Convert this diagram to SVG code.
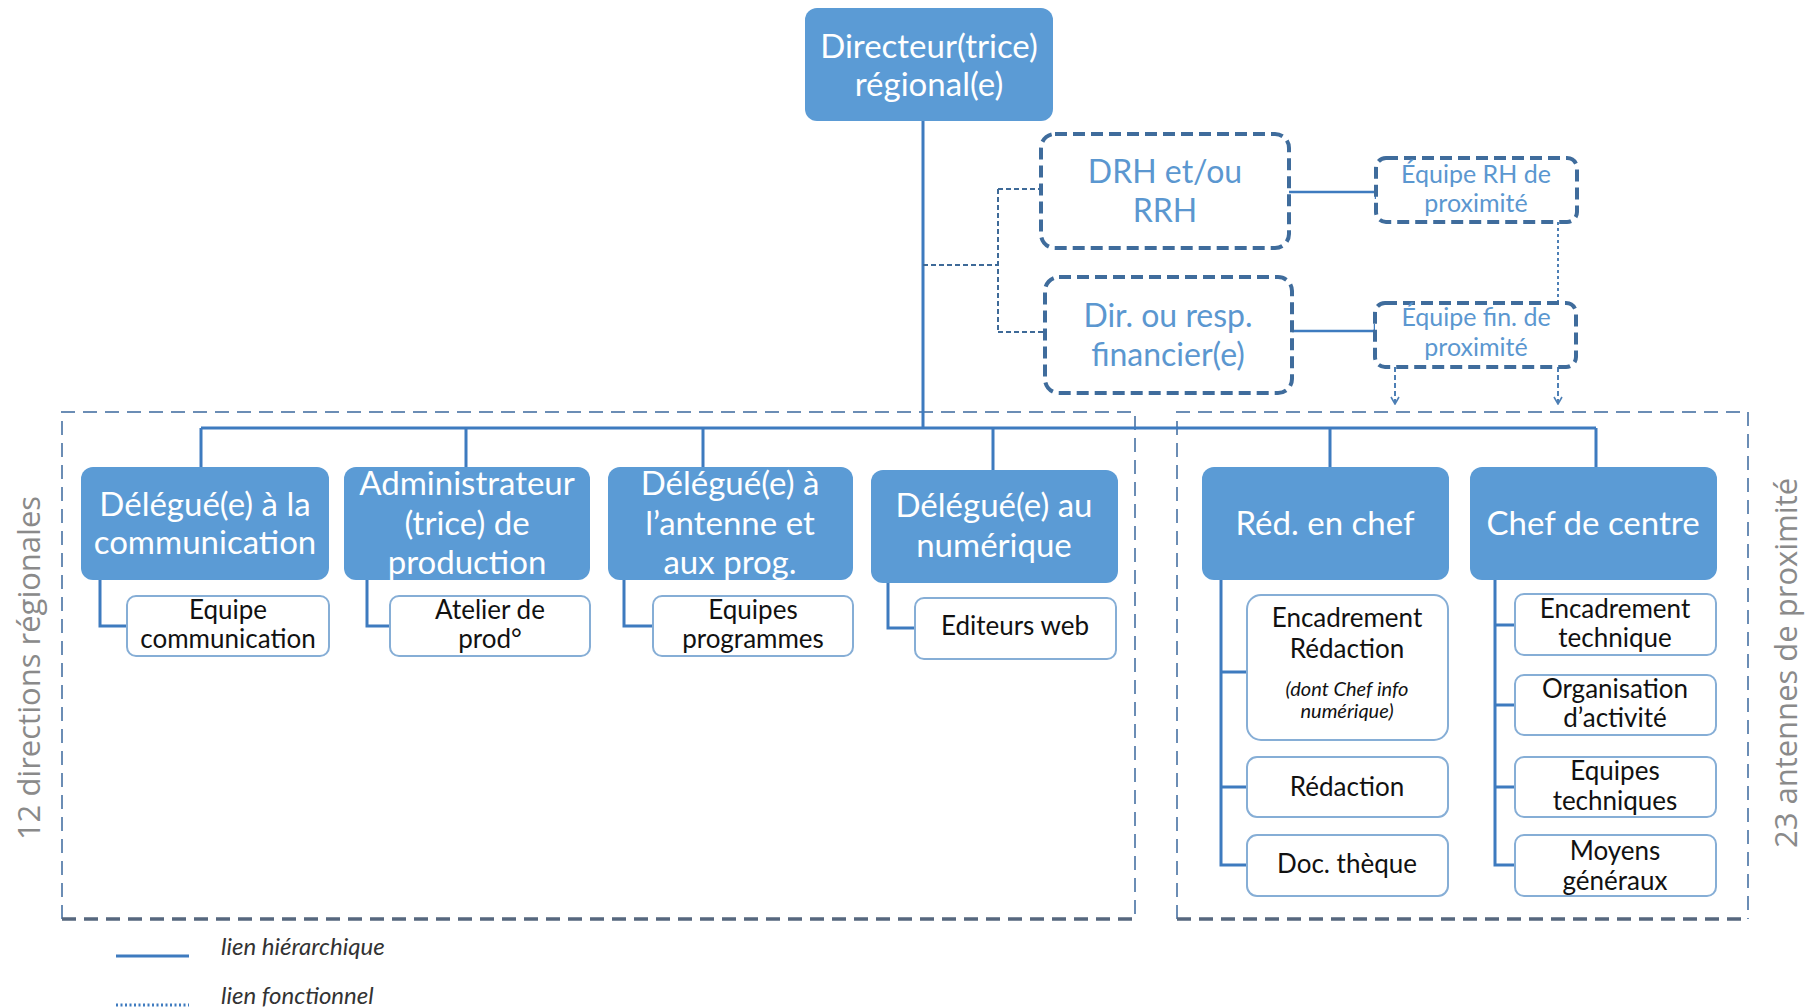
<svg xmlns="http://www.w3.org/2000/svg" width="1809" height="1008" viewBox="0 0 1809 1008">
<style>
  .nb { fill: #5b9bd5; stroke: none; }
  .nt { font-family: Lato, "Open Sans", sans-serif; font-size: 33px; fill: #ffffff; text-anchor: middle; }
  .cb { fill: #ffffff; stroke: #86aed6; stroke-width: 2; }
  .ct { font-family: Lato, "Open Sans", sans-serif; font-size: 26px; fill: #111111; text-anchor: middle; }
  .ci { font-family: Lato, "Open Sans", sans-serif; font-size: 20px; font-style: italic; fill: #111111; text-anchor: middle; }
  .db { fill: #ffffff; stroke: #3f6c9c; stroke-width: 4; stroke-dasharray: 12 6; }
  .dt { font-family: Lato, "Open Sans", sans-serif; fill: #5b97d0; text-anchor: middle; }
  .h { fill: none; stroke: #3e7bbf; stroke-width: 3; }
  .f { fill: none; stroke: #3e6a98; stroke-width: 2; stroke-dasharray: 5 3; }
  .fa { fill: none; stroke: #4d7fb5; stroke-width: 2; stroke-dasharray: 5 3; }
  .ctn { fill: none; stroke: #6b8db5; stroke-width: 2; stroke-dasharray: 14 8; }
  .ctnb { fill: none; stroke: #56677e; stroke-width: 3.5; stroke-dasharray: 14 8; }
  .side { font-family: "Open Sans", Lato, sans-serif; font-size: 31px; fill: #8a8a8a; text-anchor: middle; }
  .leg { font-family: Lato, "Open Sans", sans-serif; font-size: 24px; font-style: italic; fill: #333333; }
</style>
<defs>
  <marker id="vee" viewBox="0 0 10 10" refX="9" refY="5" markerWidth="10" markerHeight="10" markerUnits="userSpaceOnUse" orient="auto">
    <path d="M2,1 L9,5 L2,9" fill="none" stroke="#4d7fb5" stroke-width="1.6"/>
  </marker>
  <marker id="tick" viewBox="0 0 4 16" refX="2" refY="8" markerWidth="4" markerHeight="16" markerUnits="userSpaceOnUse" orient="auto">
    <line x1="2" y1="1" x2="2" y2="15" stroke="#3e7bbf" stroke-width="2.5"/>
  </marker>
</defs>

<!-- containers -->
<g id="containers">
  <g id="zone-directions">
    <path class="ctn" d="M62,919 L62,412 L1135,412 L1135,919"/>
    <path class="ctnb" d="M62,919 L1135,919"/>
  </g>
  <g id="zone-antennes">
    <path class="ctn" d="M1177,919 L1177,412 L1748,412 L1748,919"/>
    <path class="ctnb" d="M1177,919 L1748,919"/>
  </g>
  <text class="side" transform="translate(40,668) rotate(-90)">12 directions régionales</text>
  <text class="side" transform="translate(1797,663) rotate(-90)">23 antennes de proximité</text>
</g>

<!-- connectors -->
<g id="connectors">
  <path class="h" d="M923,121 L923,428"/>
  <path class="h" d="M201,428 L1596,428"/>
  <path class="h" d="M201,428 L201,467 M466,428 L466,467 M703,428 L703,467 M993,428 L993,470 M1330,428 L1330,467 M1596,428 L1596,467"/>
  <path class="h" d="M100,580 L100,626 L127,626"/>
  <path class="h" d="M367,580 L367,626 L390,626"/>
  <path class="h" d="M624,580 L624,626 L653,626"/>
  <path class="h" d="M888,583 L888,628 L915,628"/>
  <path class="h" d="M1221,580 L1221,865 L1247,865 M1221,672 L1247,672 M1221,787 L1247,787"/>
  <path class="h" d="M1495,580 L1495,865 L1515,865 M1495,625 L1515,625 M1495,705 L1515,705 M1495,787 L1515,787"/>
  <path class="f" d="M923,265 L998,265 M998,189 L998,332 M998,189 L1041,189 M998,332 L1045,332"/>
  <path class="h" d="M1289,192 L1376,192" style="stroke-width:2.5" marker-end="url(#tick)"/>
  <path class="h" d="M1292,331 L1375,331" style="stroke-width:2.5" marker-end="url(#tick)"/>
  <path class="fa" d="M1558,222 L1558,303" style="stroke-dasharray:3 3"/>
  <path class="fa" d="M1395,367 L1395,404" marker-end="url(#vee)"/>
  <path class="fa" d="M1558,367 L1558,404" marker-end="url(#vee)"/>
</g>

<!-- top -->
<g id="n-directeur">
  <rect class="nb" x="805" y="8" width="248" height="113" rx="12"/>
  <text class="nt" x="929" y="58" font-size="34">Directeur(trice)</text>
  <text class="nt" x="929" y="96" font-size="34">régional(e)</text>
</g>
<g id="n-drh">
  <rect class="db" x="1041" y="134" width="248" height="114" rx="14"/>
  <text class="dt" x="1165" y="183" font-size="32">DRH et/ou</text>
  <text class="dt" x="1165" y="222" font-size="32">RRH</text>
</g>
<g id="n-fin">
  <rect class="db" x="1045" y="277" width="247" height="116" rx="14"/>
  <text class="dt" x="1168" y="327" font-size="32">Dir. ou resp.</text>
  <text class="dt" x="1168" y="366" font-size="32">financier(e)</text>
</g>
<g id="n-equipe-rh">
  <rect class="db" x="1376" y="158" width="201" height="64" rx="10"/>
  <text class="dt" x="1476" y="183" font-size="25" fill="#6a9fd6">Équipe RH de</text>
  <text class="dt" x="1476" y="212" font-size="25" fill="#6a9fd6">proximité</text>
</g>
<g id="n-equipe-fin">
  <rect class="db" x="1375" y="303" width="201" height="64" rx="10"/>
  <text class="dt" x="1476" y="326" font-size="25" fill="#6a9fd6">Équipe fin. de</text>
  <text class="dt" x="1476" y="356" font-size="25" fill="#6a9fd6">proximité</text>
</g>

<!-- delegates -->
<g id="n-communication">
  <rect class="nb" x="81" y="467" width="248" height="113" rx="12"/>
  <text class="nt" x="205" y="516">Délégué(e) à la</text>
  <text class="nt" x="205" y="554">communication</text>
</g>
<g id="n-administrateur">
  <rect class="nb" x="344" y="467" width="246" height="113" rx="12"/>
  <text class="nt" x="467" y="495">Administrateur</text>
  <text class="nt" x="467" y="535">(trice) de</text>
  <text class="nt" x="467" y="574">production</text>
</g>
<g id="n-antenne">
  <rect class="nb" x="608" y="467" width="245" height="113" rx="12"/>
  <text class="nt" x="730" y="495">Délégué(e) à</text>
  <text class="nt" x="730" y="535">l’antenne et</text>
  <text class="nt" x="730" y="574">aux prog.</text>
</g>
<g id="n-numerique">
  <rect class="nb" x="871" y="470" width="247" height="113" rx="12"/>
  <text class="nt" x="994" y="517">Délégué(e) au</text>
  <text class="nt" x="994" y="557">numérique</text>
</g>
<g id="n-redchef">
  <rect class="nb" x="1202" y="467" width="247" height="113" rx="12"/>
  <text class="nt" x="1325" y="535">Réd. en chef</text>
</g>
<g id="n-chefcentre">
  <rect class="nb" x="1470" y="467" width="247" height="113" rx="12"/>
  <text class="nt" x="1593" y="535">Chef de centre</text>
</g>

<!-- children -->
<g id="c-equipe-comm">
  <rect class="cb" x="127" y="596" width="202" height="60" rx="9"/>
  <text class="ct" x="228" y="619">Equipe</text>
  <text class="ct" x="228" y="648">communication</text>
</g>
<g id="c-atelier">
  <rect class="cb" x="390" y="596" width="200" height="60" rx="9"/>
  <text class="ct" x="490" y="619">Atelier de</text>
  <text class="ct" x="490" y="648">prod°</text>
</g>
<g id="c-equipes-prog">
  <rect class="cb" x="653" y="596" width="200" height="60" rx="9"/>
  <text class="ct" x="753" y="619">Equipes</text>
  <text class="ct" x="753" y="648">programmes</text>
</g>
<g id="c-editeurs">
  <rect class="cb" x="915" y="598" width="201" height="61" rx="9"/>
  <text class="ct" x="1015" y="635">Editeurs web</text>
</g>
<g id="c-enc-redaction">
  <rect class="cb" x="1247" y="595" width="201" height="145" rx="14"/>
  <text class="ct" x="1347" y="627">Encadrement</text>
  <text class="ct" x="1347" y="658">Rédaction</text>
  <text class="ci" x="1347" y="696">(dont Chef info</text>
  <text class="ci" x="1347" y="718">numérique)</text>
</g>
<g id="c-redaction">
  <rect class="cb" x="1247" y="757" width="201" height="60" rx="10"/>
  <text class="ct" x="1347" y="796">Rédaction</text>
</g>
<g id="c-doc">
  <rect class="cb" x="1247" y="835" width="201" height="61" rx="10"/>
  <text class="ct" x="1347" y="873">Doc. thèque</text>
</g>
<g id="c-enc-tech">
  <rect class="cb" x="1515" y="594" width="201" height="61" rx="9"/>
  <text class="ct" x="1615" y="618">Encadrement</text>
  <text class="ct" x="1615" y="647">technique</text>
</g>
<g id="c-organisation">
  <rect class="cb" x="1515" y="675" width="201" height="60" rx="9"/>
  <text class="ct" x="1615" y="698">Organisation</text>
  <text class="ct" x="1615" y="727">d’activité</text>
</g>
<g id="c-equipes-tech">
  <rect class="cb" x="1515" y="757" width="201" height="60" rx="9"/>
  <text class="ct" x="1615" y="780">Equipes</text>
  <text class="ct" x="1615" y="810">techniques</text>
</g>
<g id="c-moyens">
  <rect class="cb" x="1515" y="835" width="201" height="61" rx="9"/>
  <text class="ct" x="1615" y="860">Moyens</text>
  <text class="ct" x="1615" y="890">généraux</text>
</g>

<!-- legend -->
<g id="legend">
  <line x1="116" y1="956" x2="189" y2="956" stroke="#3e7bbf" stroke-width="3"/>
  <line x1="116" y1="1005" x2="189" y2="1005" stroke="#3e7bbf" stroke-width="3" stroke-dasharray="2 2.5"/>
  <text class="leg" x="221" y="955">lien hiérarchique</text>
  <text class="leg" x="221" y="1004">lien fonctionnel</text>
</g>
</svg>
